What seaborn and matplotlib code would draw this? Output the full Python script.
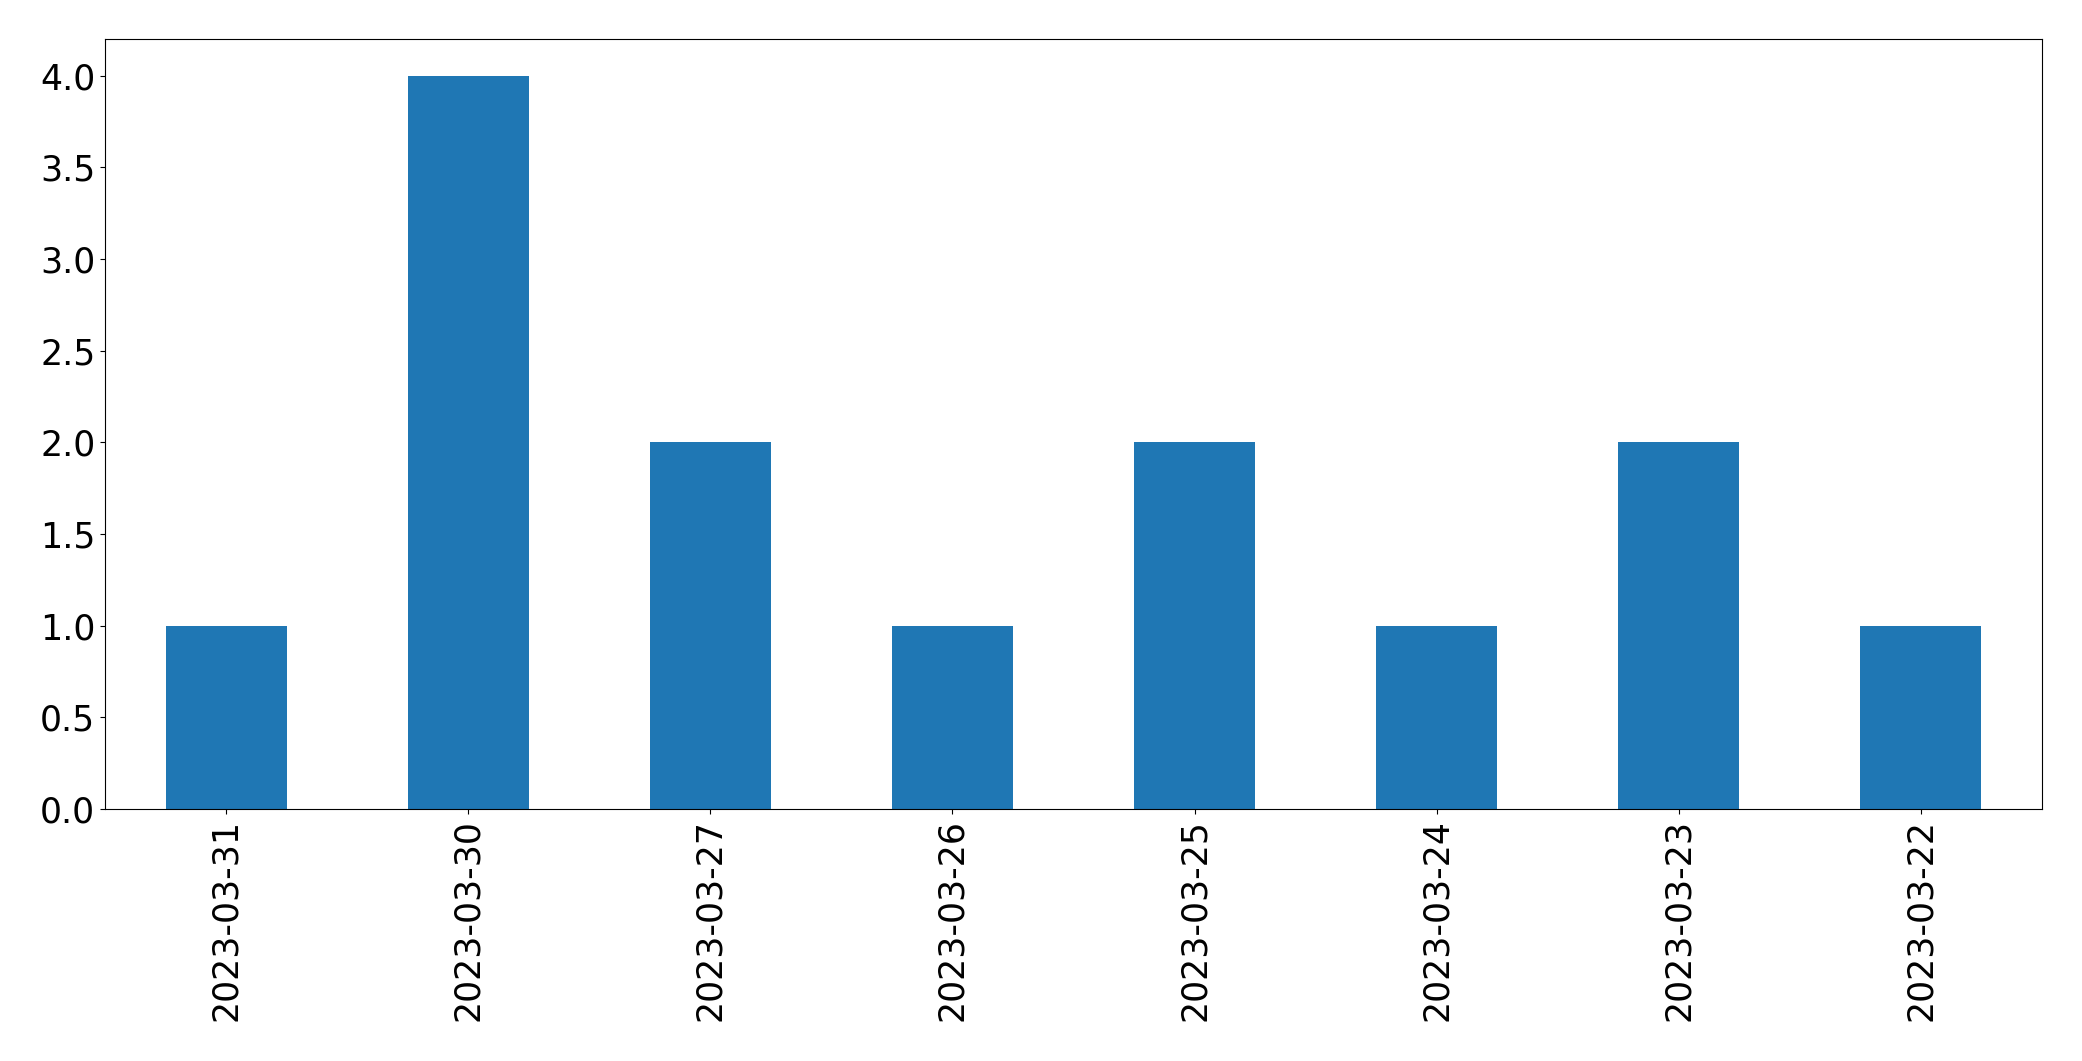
import matplotlib
matplotlib.use('Agg')
import matplotlib.pyplot as plt
import seaborn as sns
import pandas as pd

# counts per date (in the order shown)
dates = ['2023-03-31', '2023-03-30', '2023-03-27', '2023-03-26',
         '2023-03-25', '2023-03-24', '2023-03-23', '2023-03-22']
counts = [1, 4, 2, 1, 2, 1, 2, 1]

df = pd.DataFrame({'date': dates, 'count': counts})

fig, ax = plt.subplots(figsize=(20.82, 10.61), dpi=100)
fig.subplots_adjust(left=105 / 2082, right=2042 / 2082, top=1 - 39 / 1061, bottom=1 - 809 / 1061)

sns.barplot(data=df, x='date', y='count', order=dates, color='#1f77b4',
            saturation=1, width=0.5, linewidth=0, ax=ax)

ax.set_xlim(-0.5, len(dates) - 0.5)
ax.set_ylim(0, 4.2)
ax.set_yticks([0, 0.5, 1, 1.5, 2, 2.5, 3, 3.5, 4])
ax.set_yticklabels(['0.0', '0.5', '1.0', '1.5', '2.0', '2.5', '3.0', '3.5', '4.0'])
ax.set_xlabel('')
ax.set_ylabel('')
ax.tick_params(axis='both', labelsize=25)
ax.tick_params(axis='x', labelrotation=90)

fig.savefig('out.png', dpi=100)
